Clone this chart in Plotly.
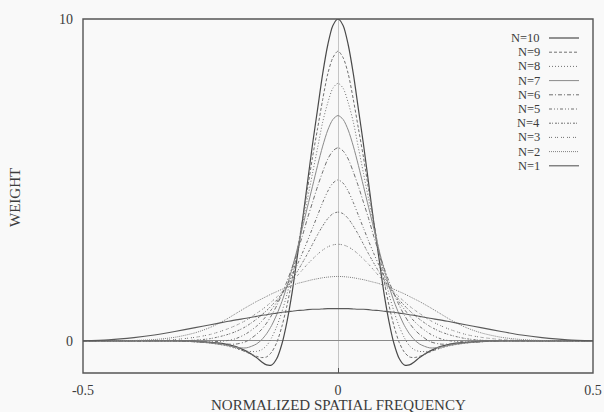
import plotly.graph_objects as go

# Normalized spatial frequency samples (non-negative half; curves are symmetric about 0)
freq = [0, .01, .02, .03, .04, .05, .06, .07, .08, .09, .10, .11, .12, .13, .14,
        .15, .16, .18, .20, .22, .25, .28, .32, .36, .40, .45, .50]

w_n1 = [1.0, 1.0, 1.0, .99, .98, .98, .97, .95, .94, .92, .90, .89, .86, .84, .81,
        .79, .76, .70, .65, .59, .50, .41, .29, .18, .10, .03, 0]
w_n2 = [2.0, 1.995, 1.98, 1.96, 1.93, 1.90, 1.86, 1.82, 1.78, 1.72, 1.66, 1.60, 1.53, 1.46, 1.38,
        1.30, 1.22, 1.04, .85, .66, .42, .25, .11, .04, .01, 0, 0]
w_n3 = [3.0, 2.98, 2.92, 2.82, 2.69, 2.54, 2.38, 2.20, 2.02, 1.85, 1.68, 1.52, 1.36, 1.22, 1.08,
        .96, .85, .64, .48, .35, .20, .11, .04, .01, 0, 0, 0]
w_n4 = [4.0, 3.95, 3.80, 3.57, 3.30, 3.00, 2.70, 2.42, 2.15, 1.90, 1.67, 1.46, 1.27, 1.10, .94,
        .80, .67, .45, .29, .18, .07, .02, 0, 0, 0, 0, 0]
w_n5 = [5.0, 4.90, 4.65, 4.30, 3.90, 3.50, 3.10, 2.72, 2.36, 2.03, 1.73, 1.45, 1.20, .98, .78,
        .60, .45, .22, .07, 0, -.03, -.02, 0, 0, 0, 0, 0]
w_n6 = [6.0, 5.90, 5.65, 5.25, 4.80, 4.30, 3.80, 3.25, 2.75, 2.28, 1.85, 1.45, 1.10, .80, .55,
        .35, .20, -.02, -.10, -.10, -.06, -.03, 0, 0, 0, 0, 0]
w_n7 = [7.0, 6.88, 6.55, 6.05, 5.45, 4.80, 4.15, 3.50, 2.85, 2.25, 1.70, 1.22, .82, .48, .22,
        .03, -.10, -.22, -.20, -.14, -.07, -.03, 0, 0, 0, 0, 0]
w_n8 = [8.0, 7.85, 7.40, 6.80, 6.00, 5.20, 4.40, 3.60, 2.80, 2.10, 1.45, .90, .45, .10, -.15,
        -.28, -.33, -.32, -.24, -.15, -.07, -.03, 0, 0, 0, 0, 0]
w_n9 = [9.0, 8.80, 8.30, 7.50, 6.60, 5.70, 4.70, 3.70, 2.80, 1.90, 1.10, .45, -.05, -.35, -.50,
        -.52, -.48, -.35, -.22, -.12, -.05, -.02, 0, 0, 0, 0, 0]
w_n10 = [10.0, 9.80, 9.20, 8.30, 7.20, 6.10, 4.90, 3.70, 2.60, 1.50, .60, -.10, -.55, -.75, -.75,
         -.65, -.52, -.32, -.18, -.10, -.05, -.02, 0, 0, 0, 0, 0]

labels = ["N=10", "N=9", "N=8", "N=7", "N=6", "N=5", "N=4", "N=3", "N=2", "N=1"]
weights = [w_n10, w_n9, w_n8, w_n7, w_n6, w_n5, w_n4, w_n3, w_n2, w_n1]
x_ticks = [-0.5, 0, 0.5]
x_tick_text = ["-0.5", "0", "0.5"]
y_ticks = [0, 10]
y_tick_text = ["0", "10"]

# line styles in gnuplot-like order
styles = [
    dict(color="#4a4a4a", width=1.2, dash="solid"),
    dict(color="#707070", width=1.0, dash="3px,2px"),
    dict(color="#707070", width=1.0, dash="1px,2px"),
    dict(color="#8a8a8a", width=1.0, dash="solid"),
    dict(color="#707070", width=1.0, dash="4px,2px,1px,2px"),
    dict(color="#707070", width=1.0, dash="3px,2px,1px,2px,1px,2px"),
    dict(color="#707070", width=1.0, dash="2px,1px,1px,2px"),
    dict(color="#707070", width=1.0, dash="1px,1px,1px,3px"),
    dict(color="#808080", width=1.0, dash="1px,1px"),
    dict(color="#5a5a5a", width=1.1, dash="solid"),
]


def mirrored(half_x, half_y):
    xs = [-v for v in half_x[::-1]] + half_x[1:]
    ys = half_y[::-1] + half_y[1:]
    return xs, ys


fig = go.Figure()
for lab, w, st in zip(labels, weights, styles):
    xs, ys = mirrored(freq, w)
    fig.add_trace(go.Scatter(x=xs, y=ys, mode="lines", name=lab,
                             line=dict(shape="spline", smoothing=0.8, **st),
                             showlegend=False))

# plot area in pixels: x 83..593, y 19..373
L, R, T, B = 83, 593, 19, 373
W, H = R - L, B - T


def px(xp):
    return (xp - L) / W


def py(yp):
    return (B - yp) / H


font_family = "Liberation Serif"
txt_color = "#3c3c3c"

# key in the upper right: label right-aligned, sample to the right
annotations = []
shapes = []
for i, (lab, st) in enumerate(zip(labels, styles)):
    yrow = 38 + 14.2 * i
    annotations.append(dict(x=px(541), y=py(yrow), xref="paper", yref="paper",
                            text=lab, showarrow=False, xanchor="right", yanchor="middle",
                            borderpad=0,
                            font=dict(family=font_family, size=12.5, color=txt_color)))
    shapes.append(dict(type="line", xref="paper", yref="paper",
                       x0=px(549), x1=px(579), y0=py(yrow), y1=py(yrow),
                       line=st))

# axis titles
annotations.append(dict(x=0.5, y=py(405), xref="paper", yref="paper",
                        text="NORMALIZED SPATIAL FREQUENCY", showarrow=False,
                        xanchor="center", yanchor="middle", borderpad=0,
                        font=dict(family=font_family, size=15, color=txt_color)))
annotations.append(dict(x=px(15), y=py(198), xref="paper", yref="paper",
                        text="WEIGHT", showarrow=False, textangle=-90,
                        xanchor="center", yanchor="middle", borderpad=0,
                        font=dict(family=font_family, size=15, color=txt_color)))

# frame
shapes.append(dict(type="rect", xref="paper", yref="paper", x0=0, x1=1, y0=0, y1=1,
                   line=dict(color="#555555", width=1.4), layer="above"))

fig.update_layout(
    width=604, height=412,
    margin=dict(l=L, r=604 - R, t=T, b=412 - B),
    paper_bgcolor="#f9f9f9", plot_bgcolor="#f9f9f9",
    font=dict(family=font_family, size=14, color=txt_color),
    annotations=annotations, shapes=shapes,
    xaxis=dict(range=[-0.5, 0.5], tickvals=x_ticks, ticktext=x_tick_text,
               showgrid=False, zeroline=True, zerolinecolor="#c4c4c4", zerolinewidth=1,
               ticks="inside", ticklen=5, tickcolor="#555555", showline=False,
               tickfont=dict(size=14), ticklabelstandoff=7, automargin=False),
    yaxis=dict(range=[-1, 10], tickvals=y_ticks, ticktext=y_tick_text,
               showgrid=False, zeroline=True, zerolinecolor="#8a8a8a", zerolinewidth=1,
               ticks="", showline=False, tickfont=dict(size=14), ticklabelstandoff=9,
               automargin=False),
)

fig.write_html("out.html")
